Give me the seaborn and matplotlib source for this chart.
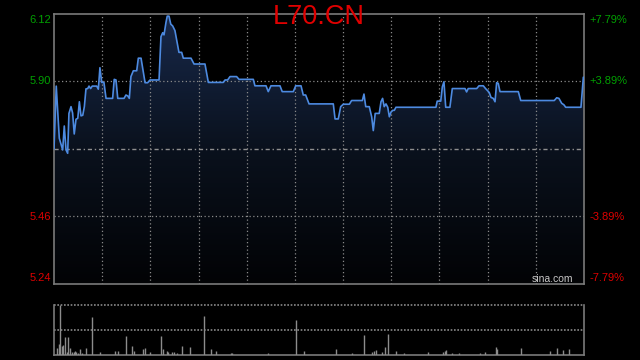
import numpy as np
import pandas as pd
import matplotlib
matplotlib.use("Agg")
import matplotlib.pyplot as plt
import seaborn as sns
from matplotlib.colors import LinearSegmentedColormap

# ---------------- data ----------------
title = "L70.CN"
prev_close = 5.68
y_ticks = [5.24, 5.46, 5.90, 6.12]
y_tick_labels = ["5.24", "5.46", "5.90", "6.12"]
pct_labels = ["-7.79%", "-3.89%", "+3.89%", "+7.79%"]

# minutes since open (session spans 0..330)
times = [0, 1.4, 3.3, 5.4, 6.4, 7.5, 8.5, 9.3, 10.6, 11.6, 12.6, 13.7, 14.8, 15.8,
         16.8, 17.9, 18.9, 19.9, 21.0, 21.8, 22.8, 23.8, 26.6, 27.6, 28.6, 29.7,
         31.1, 32.4, 36.5, 37.5, 38.6, 39.7, 43.6, 44.8, 45.9, 46.9, 47.9, 49.4,
         51.5, 52.5, 54.2, 56.7, 58.3, 59.8, 65.4, 66.6, 67.7, 68.5, 69.7, 70.5,
         71.6, 72.7, 73.9, 75.3, 76.4, 77.8, 79.5, 80.5, 85.3, 87.2, 94.0, 96.1,
         105.4, 106.5, 108.1, 109.6, 113.7, 115.2, 124.1, 125.1, 132.0, 133.4,
         135.1, 140.7, 142.1, 149.0, 150.5, 153.8, 155.2, 156.7, 158.8, 173.9,
         175.0, 177.0, 178.5, 180.1, 183.9, 185.3, 192.0, 193.0, 194.1, 196.3,
         197.8, 198.8, 200.0, 202.5, 203.6, 204.6, 205.6, 206.7, 207.8, 208.8,
         209.8, 210.9, 211.9, 212.9, 237.8, 238.6, 240.8, 241.8, 242.8, 243.9,
         246.5, 248.0, 255.9, 256.9, 257.9, 263.2, 264.6, 267.3, 268.7, 270.0,
         271.0, 272.1, 273.5, 274.6, 275.6, 276.6, 277.7, 289.1, 290.6, 311.5,
         313.0, 314.4, 316.1, 317.5, 318.6, 328.1, 329.6]
prices = [5.68, 5.885, 5.715, 5.677, 5.755, 5.677, 5.666, 5.796, 5.818, 5.797, 5.729,
          5.777, 5.780, 5.834, 5.788, 5.790, 5.818, 5.876, 5.877, 5.885, 5.877,
          5.885, 5.885, 5.875, 5.945, 5.897, 5.897, 5.845, 5.845, 5.907, 5.905,
          5.845, 5.845, 5.856, 5.853, 5.845, 5.916, 5.935, 5.935, 5.976, 5.976,
          5.896, 5.896, 5.905, 5.905, 6.046, 6.059, 6.052, 6.092, 6.113, 6.113,
          6.087, 6.081, 6.066, 6.035, 5.995, 5.995, 5.976, 5.976, 5.957, 5.957,
          5.897, 5.897, 5.905, 5.905, 5.916, 5.916, 5.907, 5.907, 5.886, 5.886,
          5.867, 5.886, 5.886, 5.867, 5.867, 5.886, 5.886, 5.856, 5.856, 5.827,
          5.827, 5.778, 5.778, 5.818, 5.826, 5.826, 5.838, 5.838, 5.859, 5.818,
          5.818, 5.785, 5.740, 5.796, 5.796, 5.834, 5.845, 5.818, 5.827, 5.816,
          5.785, 5.800, 5.806, 5.806, 5.816, 5.816, 5.836, 5.836, 5.883, 5.899,
          5.816, 5.816, 5.877, 5.877, 5.866, 5.877, 5.877, 5.886, 5.886, 5.877,
          5.870, 5.864, 5.848, 5.845, 5.834, 5.896, 5.894, 5.867, 5.867, 5.838,
          5.838, 5.847, 5.845, 5.829, 5.824, 5.816, 5.816, 5.914]

vol_times = [2.1, 3.1, 3.9, 5.0, 5.8, 7.0, 8.1, 8.9, 10.1, 11.0, 12.3, 13.3, 13.9,
             14.8, 16.0, 17.4, 20.1, 23.8, 28.6, 38.0, 39.8, 45.0, 48.7, 50.0,
             55.6, 56.8, 60.0, 66.8, 68.0, 70.2, 71.2, 73.7, 74.9, 76.6, 79.9,
             84.9, 93.6, 97.9, 101.0, 110.0, 111.0, 133.4, 150.9, 155.8, 175.8,
             185.7, 193.2, 198.2, 199.4, 200.7, 204.4, 206.3, 208.1, 213.1,
             218.1, 233.0, 242.4, 243.3, 244.2, 248.0, 252.3, 265.4, 268.5,
             275.4, 276.0, 290.9, 309.0, 313.3, 317.1, 320.8]
volumes = [6.7, 10.7, 49.7, 9, 10, 17.7, 2.7, 17.7, 6.7, 2.3, 2.7, 4, 2.7, 1.7, 5.3,
           1.7, 6.7, 37.7, 2.7, 4, 4, 19, 9, 4, 6, 6.7, 2.7, 19, 5.3, 3.3, 2.3,
           2.7, 2.3, 1.7, 9, 7.7, 39, 5.7, 4, 1.7, 1.7, 1.7, 34.7, 4, 5.7, 1.7,
           19.7, 2.7, 4, 4.7, 2.7, 7.7, 20.7, 4, 1.7, 2.7, 2.7, 3.3, 4.7, 1.7,
           1.7, 1.7, 2.7, 7.7, 5.7, 6.7, 4, 6.7, 4.7, 5.7]

df = pd.DataFrame({"t": times, "price": prices})

# ---------------- style ----------------
sns.set_theme(style="dark")
plt.rcParams["font.family"] = ["Liberation Sans", "DejaVu Sans"]

fig = plt.figure(figsize=(6.4, 3.6), dpi=100, facecolor="black")
ax = fig.add_axes([54 / 640, 1 - 284 / 360, 530 / 640, 270 / 360])
axv = fig.add_axes([54 / 640, 1 - 354.7 / 360, 530 / 640, 50 / 360])

ymin, ymax = 5.24, 6.12
xmin, xmax = 0, 330
grid_c = "#8a8a8a"
spine_c = "#7a7a7a"

for a in (ax, axv):
    a.set_facecolor("black")
    for s in a.spines.values():
        s.set_color(spine_c)
        s.set_linewidth(1.2)
    a.set_xticks([])
    a.set_yticks([])
    a.grid(False)

ax.set_xlim(xmin, xmax)
ax.set_ylim(ymin, ymax)

# gradient fill under the line
cmap = LinearSegmentedColormap.from_list("fill", ["#020305", "#0a111d", "#18294b"])
grad = np.linspace(0, 1, 256).reshape(-1, 1)
img = ax.imshow(grad, cmap=cmap, aspect="auto", origin="lower",
                extent=[xmin, xmax, ymin, ymax], zorder=1)
poly = ax.fill_between(times, prices, ymin, color="none", lw=0)
img.set_clip_path(poly.get_paths()[0], transform=ax.transData)

# grids
for gx in range(30, 330, 30):
    ax.axvline(gx, color=grid_c, lw=0.9, ls=(0, (1, 2)), zorder=2)
for gy in [5.46, 5.90]:
    ax.axhline(gy, color=grid_c, lw=0.9, ls=(0, (1, 2)), zorder=2)
ax.axhline(prev_close, color="#8f8f8f", lw=1.0, ls=(0, (3, 2, 1, 2)), zorder=2)

sns.lineplot(data=df, x="t", y="price", ax=ax, color="#4d8ae0", lw=1.2, zorder=3)
ax.set_xlabel("")
ax.set_ylabel("")

# tick labels
label_y = {5.24: 5.24 + 0.018, 5.46: 5.46, 5.90: 5.90, 6.12: 6.12 - 0.019}
for v, lab, pl in zip(y_ticks, y_tick_labels, pct_labels):
    col = "#00a000" if v > prev_close else "#dd0000"
    yy = label_y[v]
    ax.text(-0.006, (yy - ymin) / (ymax - ymin), lab, transform=ax.transAxes,
            ha="right", va="center", color=col, fontsize=8)
    ax.text(1.011, (yy - ymin) / (ymax - ymin), pl, transform=ax.transAxes,
            ha="left", va="center", color=col, fontsize=8)

fig.text(319 / 640, 1 - 17 / 360, title, color="#e00000", fontsize=19.5,
         ha="center", va="center")
ax.text(0.94, 0.019, "sina.com", transform=ax.transAxes,
        color="#c8c8c8", fontsize=7.5, ha="center", va="center", zorder=5)

# volume panel
axv.set_xlim(xmin, xmax)
axv.set_ylim(0, 50)
axv.spines["top"].set_visible(False)
axv.axhline(50, color=grid_c, lw=1.2, ls=(0, (1, 1)), zorder=2, clip_on=False)
axv.axhline(25, color=grid_c, lw=1.2, ls=(0, (1, 1)), zorder=2)
axv.vlines(vol_times, 0, volumes, color="#8c8c8c", lw=1.0, zorder=3)

fig.savefig("out.png", dpi=100, facecolor="black")
